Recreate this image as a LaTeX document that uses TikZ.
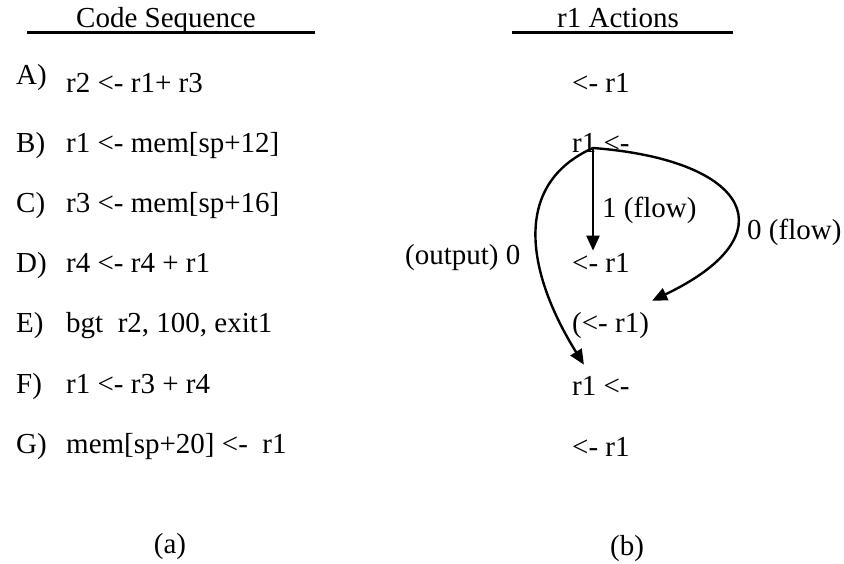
\documentclass[tikz,border=0pt]{standalone}
\usepackage{fontspec}
\setmainfont{Liberation Serif}
\usepackage{tikz}
\usetikzlibrary{arrows.meta, positioning, calc}

\begin{document}
\begin{tikzpicture}[x=1pt, y=-1pt, >={Triangle[length=15pt, width=13pt]},
    line cap=round, line join=round,
    every node/.style={font=\fontsize{29}{34}\selectfont, inner sep=3pt},
    txt/.style={anchor=base west},
    ttl/.style={anchor=base},
    flowarrow/.style={->, line width=2.4pt}]
    \useasboundingbox (0,0) rectangle (844,564);

    % Headings
    \node[ttl] (headA) at (166,28) {Code Sequence};
    \node[ttl] (headB) at (618,28) {r1 Actions};
    \draw[line width=3pt, line cap=butt] (27,33) -- (315,33);
    \draw[line width=3pt, line cap=butt] (512,33) -- (733,33);

    % Code sequence
    \node[txt] (lblA) at (13,85) {A)};
    \node[txt] (codeA) at (63,93) {r2 <- r1+ r3};
    \foreach \lab/\code/\y in {
        B/{r1 <- mem[sp+12]}/153,
        C/{r3 <- mem[sp+16]}/213,
        D/{r4 <- r4 + r1}/273,
        E/{bgt~ r2, 100, exit1}/333,
        F/{r1 <- r3 + r4}/393,
        G/{mem[sp+20] <-~ r1}/453
    }{
        \node[txt] (lbl\lab) at (13,\y) {\lab)};
        \node[txt] (code\lab) at (63,\y) {\code};
    }

    % r1 actions
    \foreach \lab/\act/\y in {
        A/{<- r1}/93,
        B/{r1 <-}/153,
        D/{<- r1}/273,
        E/{(<- r1)}/333,
        F/{r1 <-}/395,
        G/{<- r1}/456
    }{
        \node[txt] (act\lab) at (569,\y) {\act};
    }

    % Dependence arcs
    \coordinate (fork) at (593,148);
    \draw[flowarrow] (fork) -- (fork |- actD.north);
    \draw[flowarrow] (fork) .. controls (750,160) and (790,235) .. ([yshift=9pt]actE.north east);
    \draw[flowarrow] (fork) .. controls (510,185) and (528,275) .. ([xshift=-17pt, yshift=8pt]actF.north);
    \node[txt] (lblflow1) at (599,218) {1 (flow)};
    \node[txt] (lblflow0) at (744,240) {0 (flow)};
    \node[txt] (lbloutput) at (402,265) {(output) 0};

    % Captions
    \node[ttl] (capA) at (170,553) {(a)};
    \node[ttl] (capB) at (627,555) {(b)};
\end{tikzpicture}
\end{document}
